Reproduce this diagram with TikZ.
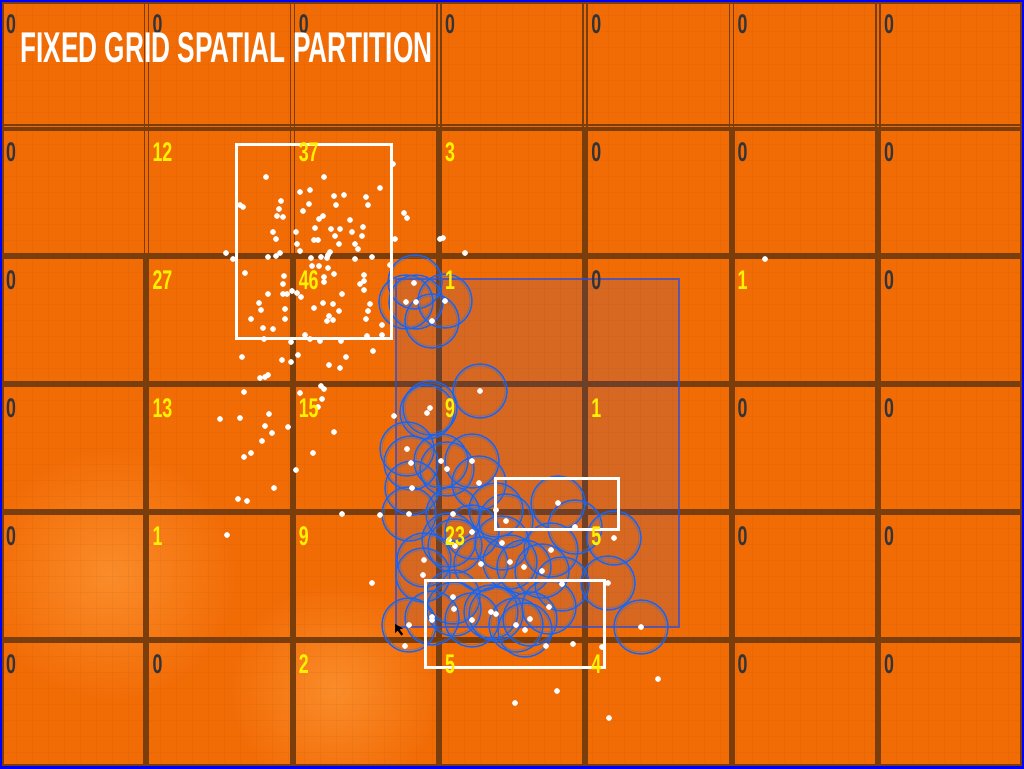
\documentclass[tikz,border=0pt]{standalone}
\usepackage{fontspec}
\newfontfamily\titlefont{Liberation Sans}[FakeStretch=0.61]
\newfontfamily\countfont{Liberation Sans}[FakeStretch=0.66]
\definecolor{bgorange}{RGB}{242,108,6}
\definecolor{glow}{RGB}{250,140,42}
\definecolor{gridbrown}{RGB}{122,62,12}
\definecolor{ringblue}{RGB}{22,100,245}
\definecolor{boxblue}{RGB}{40,80,220}
\definecolor{zerogray}{RGB}{52,52,56}
\definecolor{frameblue}{RGB}{0,0,255}
\tikzset{
  gridline/.style={gridbrown, line width=6},
  thingrid/.style={gridbrown, line width=1.5},
  texture/.style={gridbrown, line width=1, opacity=0.06},
  count/.style={
    anchor=west,
    inner sep=0pt,
    font=\countfont\bfseries\fontsize{27}{27}\selectfont
  },
  region/.style={
    fill=boxblue,
    fill opacity=0.13,
    draw=boxblue,
    draw opacity=0.75,
    line width=1.5
  },
  ring/.style={draw=ringblue, line width=1.4},
  ring-inner/.style={draw=ringblue!55!gray, line width=1, opacity=0.5},
  dot/.style={fill=white},
  query/.style={draw=white, line width=3}
}
\newcommand{\cellw}{146.3}
\newcommand{\cellh}{128}

\begin{document}
\begin{tikzpicture}[x=1pt,y=-1pt]
  \useasboundingbox (0,0) rectangle (1024,768);
  \fill[bgorange] (0,0) rectangle (1024,768);
  \shade[inner color=glow, outer color=bgorange] (110,575) circle (125);
  \shade[inner color=glow, outer color=bgorange] (335,690) circle (105);
  \foreach \t in {16,32,...,1008} {
    \draw[texture] (\t,0) -- (\t,768);
  }
  \foreach \t in {16,32,...,752} {
    \draw[texture] (0,\t) -- (1024,\t);
  }
  \foreach \c in {3,...,6} {
    \draw[gridline] ({\c*\cellw},128) -- ({\c*\cellw},768);
  }
  \foreach \c in {1,2} {
    \draw[gridline] ({\c*\cellw},256) -- ({\c*\cellw},768);
  }
  \foreach \c/\h in {1/256,2/256,3/128,4/128,5/128,6/128} {
    \draw[thingrid] ({\c*\cellw-2},0) -- ({\c*\cellw-2},\h)
                    ({\c*\cellw+2},0) -- ({\c*\cellw+2},\h);
  }
  \foreach \r in {2,...,5} {
    \draw[gridline] (0,{\r*\cellh}) -- (1024,{\r*\cellh});
  }
  \draw[gridline, line width=4] (0,129) -- (1024,129);
  \draw[thingrid] (0,125) -- (1024,125);
  \draw[thingrid] (3,3) rectangle (1021,765);

  \draw[region] (396,279) rectangle (679,627);

  \foreach \p in {(415,282),(406,302),(416,302),(445,301),(432,321),(480,391),
                  (430,408),(427,412),(407,449),(411,463),(441,461),(447,469),
                  (472,461),(479,483),(412,488),(409,514),(453,514),(496,510),
                  (506,521),(558,503),(575,527),(614,538),(472,532),(449,540),
                  (455,546),(502,543),(551,550),(424,560),(423,575),(481,564),
                  (510,562),(524,567),(542,571),(562,584),(608,583),(453,597),
                  (454,609),(432,618),(409,625),(472,620),(491,612),(496,614),
                  (516,625),(525,630),(530,619),(549,607),(641,627)} {
    \draw[ring] \p circle (27);
    \draw[ring-inner] \p circle (25);
  }

  \foreach \p in {(266,177),(324,177),(300,192),(310,190),(281,201),(240,205),
                  (243,207),(279,209),(277,216),(283,217),(303,211),(309,204),
                  (334,196),(344,195),(336,205),(366,197),(368,205),(380,188),
                  (393,164),(323,216),(319,219),(350,220),(404,213),(407,218),
                  (315,228),(331,229),(340,229),(352,232),(363,227),(296,232),
                  (273,232),(276,239),(314,240),(318,240),(335,236),(362,236),
                  (395,239),(440,239),(443,238),(297,244),(339,244),(355,244),
                  (358,249),(300,251),(330,252),(328,255),(280,253),(276,256),
                  (268,257),(226,253),(233,259),(311,258),(321,257),(327,258),
                  (355,259),(372,257),(390,265),(465,253),(312,266),(319,266),
                  (328,268),(245,273),(284,276),(283,284),(324,277),(324,282),
                  (334,274),(364,275),(364,281),(360,284),(364,290),(268,294),
                  (283,294),(287,294),(292,291),(297,293),(301,297),(342,294),
                  (259,303),(261,310),(285,309),(314,308),(323,303),(333,304),
                  (339,311),(329,316),(327,321),(333,320),(368,311),(370,304),
                  (366,319),(285,319),(251,319),(263,328),(273,329),(382,325),
                  (382,335),(305,335),(264,339),(291,342),(310,339),(320,341),
                  (341,341),(367,336),(373,351),(242,357),(282,360),(291,362),
                  (298,355),(346,357),(329,365),(340,368),(260,378),(265,377),
                  (268,375),(321,386),(765,259),
                  (244,392),(220,419),(240,418),(269,414),(265,426),(272,433),
                  (288,427),(262,441),(251,453),(244,457),(300,393),(324,389),
                  (322,399),(318,407),(334,432),(313,453),(296,470),(274,488),
                  (238,499),(247,501),(342,514),(380,515),(227,535),(394,416),
                  (414,283),(406,302),(416,302),(445,301),(432,321),(480,391),
                  (430,408),(427,413),(407,449),(411,463),(441,461),(447,469),
                  (472,461),(479,483),(412,488),(409,514),(453,514),(496,510),
                  (506,521),(558,503),(575,527),(614,538),(472,532),(449,540),
                  (455,546),(502,543),(551,550),(424,560),(423,575),(481,564),
                  (510,562),(524,567),(542,571),(372,583),(562,584),(608,583),
                  (453,597),(454,609),(432,617),(432,620),(409,625),(405,646),
                  (472,620),(491,612),(496,614),(516,625),(525,630),(530,619),
                  (549,607),(546,646),(573,644),(602,647),(641,627),(658,679),
                  (557,691),(515,703),(609,718)} {
    \fill[dot] \p circle (2.9);
  }

  \draw[query] (236,144) rectangle (391,338);
  \draw[query] (495,478) rectangle (618,529);
  \draw[query] (425,580) rectangle (604,667);

  \fill[black] (395,624) -- (395,633) -- (397.5,630.5) -- (401.5,635.5)
    -- (403,634) -- (399.5,629.3) -- (403,628.5) -- cycle;

  \foreach \r/\vals in {0/{0,0,0,0,0,0,0},1/{0,12,37,3,0,0,0},
                        2/{0,27,46,1,0,1,0},3/{0,13,15,9,1,0,0},
                        4/{0,1,9,23,5,0,0},5/{0,0,2,5,4,0,0}} {
    \foreach \v [count=\c from 0] in \vals {
      \ifnum\v=0 \def\ccol{zerogray}\else\def\ccol{yellow}\fi
      \node[count, text=\ccol] (n\r-\c)
        at ({\c*\cellw+6},{\r*\cellh+24}) {\v};
    }
  }

  \node[anchor=west, inner sep=0pt, text=white,
        font=\titlefont\bfseries\fontsize{43}{43}\selectfont]
    (title) at (20,48) {FIXED GRID SPATIAL PARTITION};

  \draw[frameblue, line width=4] (0,0) rectangle (1024,768);
\end{tikzpicture}
\end{document}
